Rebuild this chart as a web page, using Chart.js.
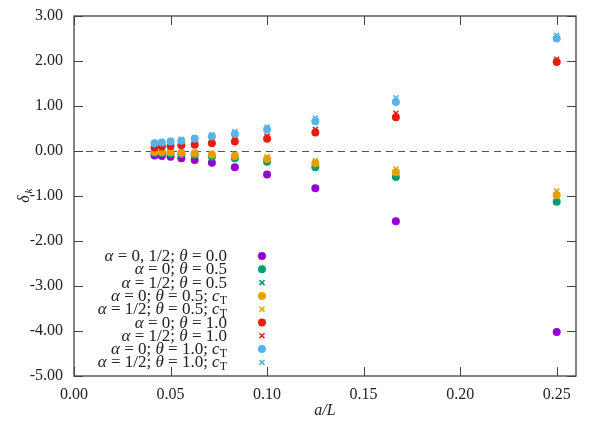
<!DOCTYPE html>
<html>
<head>
<meta charset="utf-8">
<script src="https://cdn.jsdelivr.net/npm/chart.js@4"></script>
<style>
  html, body { margin: 0; padding: 0; background: #fff; }
  #wrap { width: 600px; height: 424px; }
</style>
</head>
<body>
<div id="wrap"><canvas id="chart" width="600" height="424"></canvas></div>
<script>
// a/L values (L = 24 ... 4)
const aL = [0.0417, 0.0455, 0.05, 0.0556, 0.0625, 0.0714, 0.0833, 0.1, 0.125, 0.1667, 0.25];

const theta0       = [-0.10, -0.11, -0.13, -0.16, -0.20, -0.26, -0.36, -0.52, -0.83, -1.56, -4.02];
const a0t05        = [-0.04, -0.05, -0.06, -0.07, -0.09, -0.13, -0.16, -0.24, -0.36, -0.58, -1.13];
const ahalf_t05    = [-0.02, -0.02, -0.03, -0.04, -0.05, -0.08, -0.11, -0.18, -0.27, -0.47, -0.98];
const a0t05cT      = [-0.02, -0.02, -0.03, -0.04, -0.05, -0.08, -0.11, -0.18, -0.27, -0.47, -0.98];
const ahalf_t05cT  = [-0.01, -0.01, -0.02, -0.02, -0.03, -0.05, -0.07, -0.13, -0.22, -0.40, -0.89];
const a0t10        = [0.08, 0.10, 0.11, 0.13, 0.14, 0.17, 0.21, 0.27, 0.41, 0.75, 1.98];
const ahalf_t10    = [0.10, 0.12, 0.13, 0.15, 0.17, 0.21, 0.26, 0.33, 0.48, 0.84, 2.04];
const a0t10cT      = [0.17, 0.19, 0.21, 0.23, 0.27, 0.32, 0.38, 0.48, 0.66, 1.09, 2.50];
const ahalf_t10cT  = [0.19, 0.21, 0.23, 0.26, 0.30, 0.36, 0.43, 0.53, 0.73, 1.18, 2.57];

const xTicks = [0, 0.05, 0.1, 0.15, 0.2, 0.25];
const yTicks = [-5, -4, -3, -2, -1, 0, 1, 2, 3];

// legend labels as runs: [text, style]  style: '' upright, 'i' italic, 's' subscript
const labels = [
  [['α', 'i'], [' = 0, 1/2; ', ''], ['θ', 'i'], [' = 0.0', '']],
  [['α', 'i'], [' = 0; ', ''], ['θ', 'i'], [' = 0.5', '']],
  [['α', 'i'], [' = 1/2; ', ''], ['θ', 'i'], [' = 0.5', '']],
  [['α', 'i'], [' = 0; ', ''], ['θ', 'i'], [' = 0.5; ', ''], ['c', 'i'], ['T', 's']],
  [['α', 'i'], [' = 1/2; ', ''], ['θ', 'i'], [' = 0.5; ', ''], ['c', 'i'], ['T', 's']],
  [['α', 'i'], [' = 0; ', ''], ['θ', 'i'], [' = 1.0', '']],
  [['α', 'i'], [' = 1/2; ', ''], ['θ', 'i'], [' = 1.0', '']],
  [['α', 'i'], [' = 0; ', ''], ['θ', 'i'], [' = 1.0; ', ''], ['c', 'i'], ['T', 's']],
  [['α', 'i'], [' = 1/2; ', ''], ['θ', 'i'], [' = 1.0; ', ''], ['c', 'i'], ['T', 's']]
];

const series = [theta0, a0t05, ahalf_t05, a0t05cT, ahalf_t05cT, a0t10, ahalf_t10, a0t10cT, ahalf_t10cT];
const colors = ['#9400d3', '#009e73', '#009e73', '#e69f00', '#e69f00', '#e51e10', '#e51e10', '#56b4e9', '#56b4e9'];
const styles = ['circle', 'circle', 'crossRot', 'circle', 'crossRot', 'circle', 'crossRot', 'circle', 'crossRot'];

const SERIF = '"Liberation Serif", "DejaVu Serif", serif';

const datasets = series.map((vals, i) => ({
  data: vals.map((v, j) => ({ x: aL[j], y: v })),
  showLine: false,
  pointStyle: styles[i],
  pointRadius: styles[i] === 'circle' ? 4 : 3.5,
  pointHoverRadius: styles[i] === 'circle' ? 4 : 3.5,
  pointBorderWidth: styles[i] === 'circle' ? 0 : 1.6,
  pointBackgroundColor: colors[i],
  pointBorderColor: colors[i],
  order: 20 - i
}));

function drawRuns(ctx, runs, xRight, y, size) {
  const fontFor = (st) => {
    if (st === 'i') return 'italic ' + size + 'px ' + SERIF;
    if (st === 's') return Math.round(size * 0.7) + 'px ' + SERIF;
    return size + 'px ' + SERIF;
  };
  let total = 0;
  runs.forEach(r => { ctx.font = fontFor(r[1]); total += ctx.measureText(r[0]).width; });
  let x = xRight - total;
  ctx.textAlign = 'left';
  ctx.textBaseline = 'alphabetic';
  runs.forEach(r => {
    ctx.font = fontFor(r[1]);
    ctx.fillText(r[0], x, r[1] === 's' ? y + 3 : y);
    x += ctx.measureText(r[0]).width;
  });
}

const decorations = {
  id: 'decorations',
  beforeDatasetsDraw(chart) {
    const { ctx, chartArea: a, scales: { y } } = chart;
    ctx.save();
    // dashed zero line
    ctx.strokeStyle = '#555';
    ctx.lineWidth = 1;
    ctx.setLineDash([7, 5]);
    ctx.beginPath();
    ctx.moveTo(a.left, Math.round(y.getPixelForValue(0)) + 0.5);
    ctx.lineTo(a.right, Math.round(y.getPixelForValue(0)) + 0.5);
    ctx.stroke();
    ctx.setLineDash([]);
    ctx.restore();
  },
  afterDatasetsDraw(chart) {
    const { ctx, chartArea: a, scales: { x, y } } = chart;
    ctx.save();
    // frame
    ctx.strokeStyle = '#444';
    ctx.lineWidth = 1.3;
    ctx.strokeRect(a.left, a.top, a.right - a.left, a.bottom - a.top);
    // inner ticks on all sides
    ctx.lineWidth = 1;
    const tl = 9;
    ctx.beginPath();
    xTicks.forEach(v => {
      const px = Math.round(x.getPixelForValue(v)) + 0.5;
      ctx.moveTo(px, a.bottom); ctx.lineTo(px, a.bottom - tl);
      ctx.moveTo(px, a.top); ctx.lineTo(px, a.top + tl);
    });
    yTicks.forEach(v => {
      const py = Math.round(y.getPixelForValue(v)) + 0.5;
      ctx.moveTo(a.left, py); ctx.lineTo(a.left + tl, py);
      ctx.moveTo(a.right, py); ctx.lineTo(a.right - tl, py);
    });
    ctx.stroke();

    // legend
    ctx.fillStyle = '#222';
    labels.forEach((runs, i) => {
      const ly = 256 + i * 13.3;
      drawRuns(ctx, runs, 227, ly + 5, 17);
      const mx = 262;
      ctx.fillStyle = colors[i];
      ctx.strokeStyle = colors[i];
      if (styles[i] === 'circle') {
        ctx.beginPath();
        ctx.arc(mx, ly, 4, 0, Math.PI * 2);
        ctx.fill();
      } else {
        ctx.lineWidth = 1.6;
        ctx.beginPath();
        ctx.moveTo(mx - 2.5, ly - 2.5); ctx.lineTo(mx + 2.5, ly + 2.5);
        ctx.moveTo(mx - 2.5, ly + 2.5); ctx.lineTo(mx + 2.5, ly - 2.5);
        ctx.stroke();
      }
      ctx.fillStyle = '#222';
    });

    // y axis title: delta_k
    ctx.translate(24, (a.top + a.bottom) / 2);
    ctx.rotate(-Math.PI / 2);
    ctx.font = 'italic 16px ' + SERIF;
    ctx.textAlign = 'center';
    ctx.fillText('δ', -3, 5);
    ctx.font = 'italic 11px ' + SERIF;
    ctx.fillText('k', 5, 8);
    ctx.restore();

    // x axis title
    ctx.save();
    ctx.fillStyle = '#222';
    ctx.font = 'italic 16px ' + SERIF;
    ctx.textAlign = 'center';
    ctx.textBaseline = 'alphabetic';
    ctx.fillText('a/L', (a.left + a.right) / 2, 415);
    ctx.restore();
  }
};

new Chart(document.getElementById('chart'), {
  type: 'scatter',
  data: { datasets },
  options: {
    responsive: false,
    animation: false,
    events: [],
    layout: { padding: { left: 0, right: 24, top: 16, bottom: 0 } },
    plugins: { legend: { display: false }, tooltip: { enabled: false } },
    scales: {
      x: {
        type: 'linear',
        min: 0, max: 0.26,
        afterBuildTicks: s => { s.ticks = xTicks.map(v => ({ value: v })); },
        afterFit: s => { s.height = 48; s.paddingLeft = 0; s.paddingRight = 0; },
        grid: { display: false, drawTicks: false },
        border: { display: false },
        ticks: {
          padding: 9,
          color: '#222',
          font: { family: SERIF, size: 16 },
          callback: v => v.toFixed(2)
        }
      },
      y: {
        min: -5, max: 3,
        afterBuildTicks: s => { s.ticks = yTicks.map(v => ({ value: v })); },
        afterFit: s => { s.width = 74; s.paddingTop = 0; s.paddingBottom = 0; },
        grid: { display: false, drawTicks: false },
        border: { display: false },
        ticks: {
          padding: 11,
          color: '#222',
          font: { family: SERIF, size: 16 },
          callback: v => v.toFixed(2)
        }
      }
    }
  },
  plugins: [decorations]
});
</script>
</body>
</html>
